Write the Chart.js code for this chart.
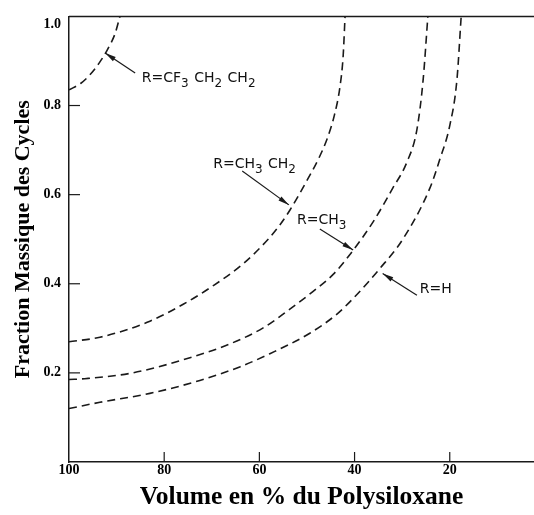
<!DOCTYPE html>
<html lang="fr">
<head>
    <meta charset="UTF-8">
    <title>Fraction massique des cycles</title>
    <script src="https://cdn.jsdelivr.net/npm/chart.js"></script>
    <style>
        body {
            margin: 0;
            background-color: #ffffff;
        }
        #chart-container {
            width: 534px;
            height: 515px;
        }
    </style>
</head>
<body>
    <div id="chart-container">
        <canvas id="chart"></canvas>
    </div>

    <script>
        // curves (x = volume % of polysiloxane, y = mass fraction)
        var cf3X = [100, 97.5, 95.6, 93.5, 92, 90.3, 89.3];
        var cf3Y = [0.835, 0.85, 0.869, 0.898, 0.924, 0.962, 1.0];

        var ethylX = [100, 93.5, 83, 76, 69.8, 63.4, 58.4, 55.7, 53.6, 50.2, 47.5, 45.6, 44.2, 43.1, 42.4, 42];
        var ethylY = [0.27, 0.28, 0.316, 0.354, 0.395, 0.445, 0.497, 0.532, 0.565, 0.628, 0.682, 0.73, 0.78, 0.84, 0.911, 1.0];

        var methylX = [100, 96.7, 86.6, 74.6, 66.2, 59.2, 53.6, 48.7, 44.5, 40.8, 36.1, 32, 29.0, 26.9, 25.6, 24.6];
        var methylY = [0.185, 0.187, 0.2, 0.234, 0.265, 0.301, 0.343, 0.383, 0.421, 0.468, 0.539, 0.614, 0.673, 0.746, 0.857, 1.0];

        var hydroX = [100, 93.5, 83, 72.5, 64, 57.8, 49.4, 43.7, 39.5, 34.7, 29.8, 24.2, 22.1, 20.0, 18.5, 17.6];
        var hydroY = [0.12, 0.134, 0.154, 0.183, 0.214, 0.243, 0.289, 0.332, 0.376, 0.434, 0.501, 0.614, 0.679, 0.755, 0.857, 1.0];

        var xTicks = [100, 80, 60, 40, 20];
        var yTicks = [0.2, 0.4, 0.6, 0.8, 1.0];

        // curve labels: text (_ = subscript), text anchor, arrow start, arrow tip
        var labelTexts = ['R=CF_3 CH_2 CH_2', 'R=CH_3 CH_2', 'R=CH_3', 'R=H'];
        var labelAt = [[84.7, 0.862], [69.7, 0.668], [52.1, 0.543], [26.3, 0.387]];
        var arrowFrom = [[86.1, 0.873], [63.6, 0.653], [47.3, 0.523], [26.9, 0.374]];
        var arrowTo = [[92.4, 0.918], [53.8, 0.577], [40.3, 0.476], [34.1, 0.423]];

        function toPoints(xs, ys) {
            return xs.map(function(x, i) { return {x: x, y: ys[i]}; });
        }

        function curve(xs, ys) {
            return {
                data: toPoints(xs, ys),
                showLine: true,
                borderColor: '#1a1a1a',
                borderWidth: 1.6,
                borderDash: [8, 5],
                pointRadius: 0,
                cubicInterpolationMode: 'monotone',
                fill: false
            };
        }

        var decorPlugin = {
            id: 'decor',
            afterDraw: function(chart) {
                var ctx = chart.ctx;
                var xs = chart.scales.x;
                var ys = chart.scales.y;
                var area = chart.chartArea;
                ctx.save();
                ctx.strokeStyle = '#1a1a1a';
                ctx.lineWidth = 1.5;

                // top line at 1.0
                ctx.beginPath();
                ctx.moveTo(area.left, ys.getPixelForValue(1.0));
                ctx.lineTo(area.right, ys.getPixelForValue(1.0));
                ctx.stroke();

                // the 1.0 label sits a little below its line in the original
                ctx.fillStyle = '#000';
                ctx.font = 'bold 14px "Liberation Serif"';
                ctx.textAlign = 'right';
                ctx.textBaseline = 'middle';
                ctx.fillText('1.0', area.left - 8, ys.getPixelForValue(1.0) + 8);

                // inward tick marks
                ctx.lineWidth = 1.2;
                yTicks.slice(0, 4).forEach(function(v) {
                    var py = ys.getPixelForValue(v);
                    ctx.beginPath();
                    ctx.moveTo(area.left, py);
                    ctx.lineTo(area.left + 11, py);
                    ctx.stroke();
                });
                xTicks.slice(1).forEach(function(v) {
                    var px = xs.getPixelForValue(v);
                    ctx.beginPath();
                    ctx.moveTo(px, area.bottom);
                    ctx.lineTo(px, area.bottom - 10);
                    ctx.stroke();
                });

                // arrows
                ctx.fillStyle = '#1a1a1a';
                arrowFrom.forEach(function(p, i) {
                    var x0 = xs.getPixelForValue(p[0]), y0 = ys.getPixelForValue(p[1]);
                    var x1 = xs.getPixelForValue(arrowTo[i][0]), y1 = ys.getPixelForValue(arrowTo[i][1]);
                    var ang = Math.atan2(y1 - y0, x1 - x0);
                    ctx.lineWidth = 1.2;
                    ctx.beginPath();
                    ctx.moveTo(x0, y0);
                    ctx.lineTo(x1, y1);
                    ctx.stroke();
                    ctx.beginPath();
                    ctx.moveTo(x1, y1);
                    ctx.lineTo(x1 - 11 * Math.cos(ang) + 2.5 * Math.sin(ang), y1 - 11 * Math.sin(ang) - 2.5 * Math.cos(ang));
                    ctx.lineTo(x1 - 11 * Math.cos(ang) - 2.5 * Math.sin(ang), y1 - 11 * Math.sin(ang) + 2.5 * Math.cos(ang));
                    ctx.closePath();
                    ctx.fill();
                });

                // labels with subscripts
                ctx.fillStyle = '#111';
                ctx.textAlign = 'left';
                labelTexts.forEach(function(txt, i) {
                    var px = xs.getPixelForValue(labelAt[i][0]);
                    var py = ys.getPixelForValue(labelAt[i][1]);
                    var parts = txt.split('_');
                    parts.forEach(function(part, j) {
                        var s = part;
                        if (j > 0) {
                            ctx.font = '12px "DejaVu Sans"';
                            ctx.fillText(s.charAt(0), px, py + 6);
                            px += ctx.measureText(s.charAt(0)).width + 1;
                            s = s.slice(1);
                        }
                        ctx.font = '14px "DejaVu Sans"';
                        ctx.fillText(s, px, py);
                        px += ctx.measureText(s).width;
                    });
                });
                ctx.restore();
            }
        };

        var chartCanvas = document.getElementById('chart');
        var massChart = new Chart(chartCanvas, {
            type: 'scatter',
            data: {
                datasets: [
                    curve(cf3X, cf3Y),
                    curve(ethylX, ethylY),
                    curve(methylX, methylY),
                    curve(hydroX, hydroY)
                ]
            },
            options: {
                responsive: true,
                maintainAspectRatio: false,
                animation: false,
                layout: {
                    padding: {top: 13, right: 0, left: 0, bottom: 0}
                },
                plugins: {
                    legend: {display: false},
                    tooltip: {enabled: false}
                },
                scales: {
                    x: {
                        type: 'linear',
                        reverse: true,
                        min: 2.3,
                        max: 100,
                        afterBuildTicks: function(scale) {
                            scale.ticks = xTicks.map(function(v) { return {value: v}; });
                        },
                        afterFit: function(scale) { scale.height = 53; },
                        grid: {display: false, drawTicks: false},
                        border: {display: true, color: '#1a1a1a', width: 1.5},
                        ticks: {
                            padding: 0,
                            color: '#000',
                            font: {family: '"Liberation Serif"', size: 14, weight: 'bold'}
                        },
                        title: {
                            display: true,
                            text: 'Volume en % du Polysiloxane',
                            color: '#000',
                            padding: {top: 0, bottom: 2},
                            font: {family: '"Liberation Serif"', size: 25.5, weight: 'bold'}
                        }
                    },
                    y: {
                        type: 'linear',
                        min: 0,
                        max: 1.0,
                        afterBuildTicks: function(scale) {
                            scale.ticks = yTicks.map(function(v) { return {value: v}; });
                        },
                        afterFit: function(scale) { scale.width = 69; },
                        grid: {display: false, drawTicks: false},
                        border: {display: true, color: '#1a1a1a', width: 1.5},
                        ticks: {
                            padding: 8,
                            color: '#000',
                            font: {family: '"Liberation Serif"', size: 14, weight: 'bold'},
                            callback: function(v) { return v === 1 ? '' : v.toFixed(1); }
                        },
                        title: {
                            display: true,
                            text: 'Fraction Massique des Cycles',
                            color: '#000',
                            padding: {top: 10, bottom: 0},
                            font: {family: '"Liberation Serif"', size: 22, weight: 'bold'}
                        }
                    }
                }
            },
            plugins: [decorPlugin]
        });
    </script>
</body>
</html>
